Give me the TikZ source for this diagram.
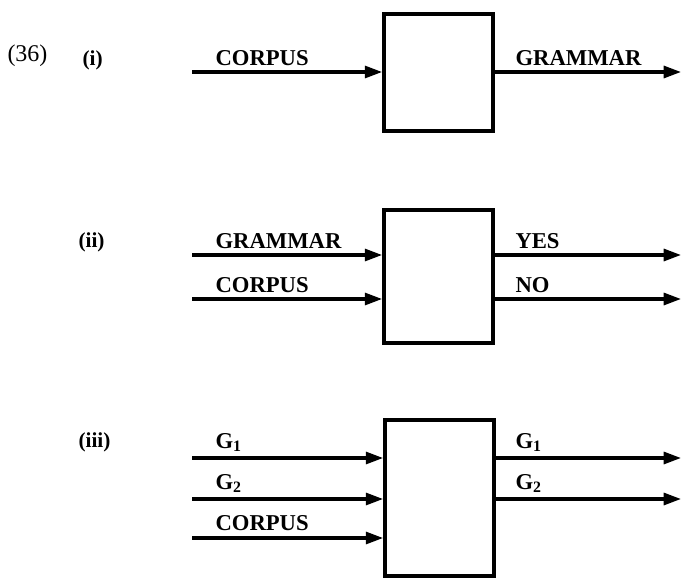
\documentclass[tikz,border=0pt]{standalone}
\usepackage{fontspec}
\setmainfont{Liberation Serif}
\usetikzlibrary{arrows.meta}

\tikzset{every picture/.style={line width=0.75pt}}
\tikzset{
  blackbox/.style={draw, line width=2.8pt, minimum width=81.75pt, inner sep=0pt},
  flow/.style={line width=2.3pt, -{Triangle[length=13pt,width=9pt]}},
  lab/.style={anchor=base west, inner sep=0pt, font=\bfseries\fontsize{17}{20}\selectfont},
  num/.style={anchor=base west, inner sep=0pt, font=\fontsize{18}{21}\selectfont},
  parttag/.style={anchor=base west, inner sep=0pt, font=\bfseries\fontsize{16}{19}\selectfont},
}

\begin{document}
\begin{tikzpicture}[x=0.75pt,y=0.75pt,yscale=-1,xscale=1]
\useasboundingbox (0,0) rectangle (682,578);

%Panel (i)
\node[num] (n36) at (7,61) {(36)};
\node[parttag] (ti) at (82,65) {(i)};
\node[blackbox, minimum height=87.75pt] (boxi) at (438.5,72.5) {};
\coordinate (ia) at (192,72);
\coordinate (oa) at (681,72);
\draw[flow] (ia) -- (ia -| boxi.west);
\draw[flow] (boxi.east |- oa) -- (oa);
% Text Node
\node[lab] (lia) at (215,65) {CORPUS};
\node[lab] (loa) at (515,65) {GRAMMAR};

%Panel (ii)
\node[parttag] (tii) at (78,247) {(ii)};
\node[blackbox, minimum height=99.75pt] (boxii) at (438.5,276.5) {};
\coordinate (iia) at (192,255);
\coordinate (iib) at (192,299);
\coordinate (oia) at (681,255);
\coordinate (oib) at (681,299);
\draw[flow] (iia) -- (iia -| boxii.west);
\draw[flow] (iib) -- (iib -| boxii.west);
\draw[flow] (boxii.east |- oia) -- (oia);
\draw[flow] (boxii.east |- oib) -- (oib);
% Text Node
\node[lab] (liia) at (215,248) {GRAMMAR};
\node[lab] (liib) at (215,292) {CORPUS};
\node[lab] (loia) at (515,248) {YES};
\node[lab] (loib) at (515,292) {NO};

%Panel (iii)
\node[parttag] (tiii) at (78,447) {(iii)};
\node[blackbox, minimum height=117pt] (boxiii) at (439.5,498) {};
\coordinate (iiia) at (192,458);
\coordinate (iiib) at (192,499);
\coordinate (iiic) at (192,538);
\coordinate (oiia) at (681,458);
\coordinate (oiib) at (681,499);
\draw[flow] (iiia) -- (iiia -| boxiii.west);
\draw[flow] (iiib) -- (iiib -| boxiii.west);
\draw[flow] (iiic) -- (iiic -| boxiii.west);
\draw[flow] (boxiii.east |- oiia) -- (oiia);
\draw[flow] (boxiii.east |- oiib) -- (oiib);
% Text Node
\node[lab] (liiia) at (215,448) {G\textsubscript{1}};
\node[lab] (liiib) at (215,489) {G\textsubscript{2}};
\node[lab] (liiic) at (215,530) {CORPUS};
\node[lab] (loiia) at (515,448) {G\textsubscript{1}};
\node[lab] (loiib) at (515,489) {G\textsubscript{2}};

\end{tikzpicture}
\end{document}
